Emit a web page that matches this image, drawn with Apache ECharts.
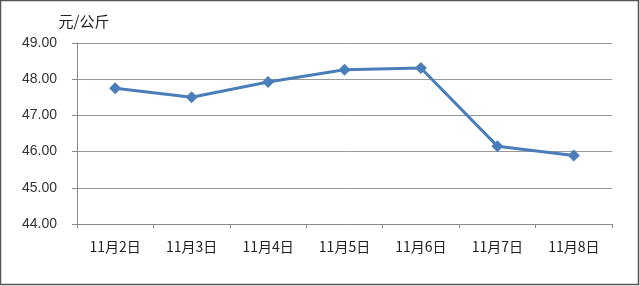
<!DOCTYPE html>
<html><head><meta charset="utf-8">
<script src="https://cdn.jsdelivr.net/npm/echarts@6/dist/echarts.min.js"></script>
<style>html,body{margin:0;padding:0;background:#fff}#c{width:640px;height:286px}</style>
</head><body><div id="c"></div>
<script>
const categories = ['11月2日','11月3日','11月4日','11月5日','11月6日','11月7日','11月8日'];
const prices = [47.75, 47.50, 47.92, 48.26, 48.31, 46.15, 45.89];
const unitLabel = '元/公斤';
const yMin = 44, yMax = 49, yStep = 1;

const chart = echarts.init(document.getElementById('c'));
chart.setOption({
  animation: false,
  backgroundColor: '#fff',
  graphic: [{type:'rect', shape:{x:0.5,y:0.5,width:638,height:284}, style:{fill:'none', stroke:'#555', lineWidth:1.5}, silent:true}],
  grid: {left: 77, right: 28, top: 43, bottom: 62},
  xAxis: {
    type: 'category', data: categories, boundaryGap: true,
    axisLine: {lineStyle: {color: '#888'}},
    axisTick: {show: true, length: 4, lineStyle: {color: '#888'}},
    axisLabel: {color: '#222', fontSize: 14, margin: 16, fontFamily: '"Noto Sans CJK SC", sans-serif'}
  },
  yAxis: {
    type: 'value', min: yMin, max: yMax, interval: yStep,
    name: unitLabel, nameLocation: 'end', nameGap: 14,
    nameTextStyle: {color: '#222', fontSize: 15, align: 'center', padding: [0, 0, 0, 14], fontFamily: '"Noto Sans CJK SC", sans-serif'},
    axisLine: {show: true, lineStyle: {color: '#888'}},
    axisTick: {show: true, length: 5, lineStyle: {color: '#888'}},
    axisLabel: {color: '#333', fontSize: 14, margin: 20, fontFamily: '"Liberation Sans", Arial, sans-serif', formatter: v => v.toFixed(2)},
    splitLine: {lineStyle: {color: '#999', width: 1}}
  },
  series: [{
    type: 'line', data: prices,
    symbol: 'diamond', symbolSize: 12,
    lineStyle: {color: '#4a7ebb', width: 3},
    itemStyle: {color: '#4a7ebb'}
  }]
});
</script></body></html>
